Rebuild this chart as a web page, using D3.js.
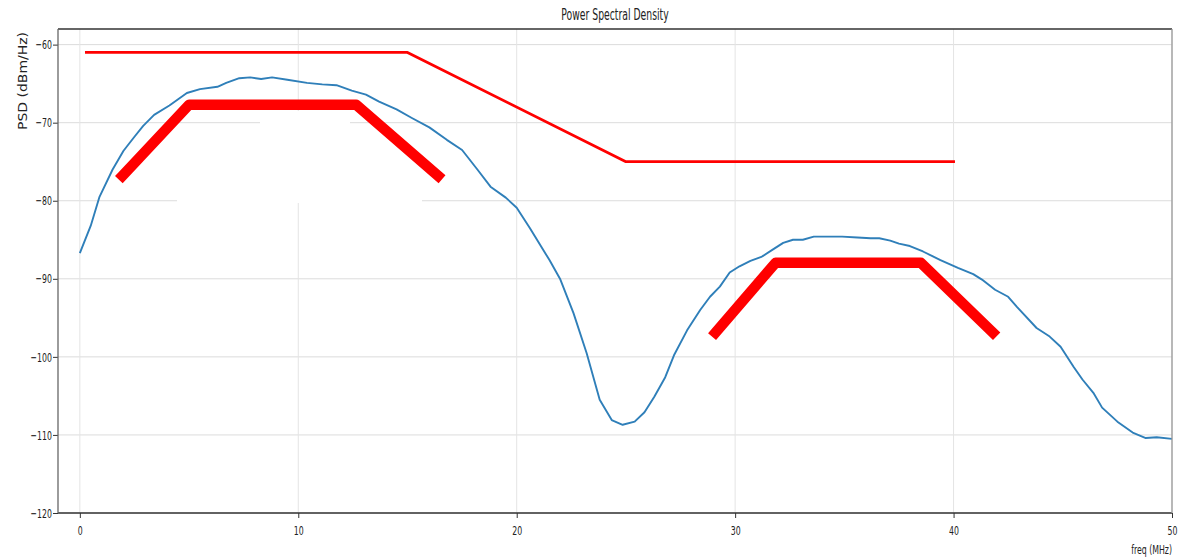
<!DOCTYPE html>
<html>
<head>
<meta charset="utf-8">
<script src="https://cdn.jsdelivr.net/npm/d3@7"></script>
<style>
  html, body { margin: 0; padding: 0; background: #fff; }
  svg { display: block; }
  text { font-family: "DejaVu Sans", sans-serif; fill: #222; }
</style>
</head>
<body>
<svg id="chart" width="1188" height="559"></svg>
<script>
// ---------- data ----------
const freq = [0, 0.5, 0.9, 1.5, 2.0, 2.5, 2.9, 3.4, 4.1, 4.5, 4.9, 5.5, 6.3, 6.7, 7.3, 7.8, 8.3, 8.8, 9.5, 10.4,
  11.1, 11.75, 12.45, 13.1, 13.7, 14.5, 15.2, 16.0, 16.8, 17.5, 18.2, 18.8, 19.5, 20.0, 20.6, 21.5, 22.0, 22.6, 23.2, 23.8,
  24.35, 24.85, 25.4, 25.85, 26.3, 26.8, 27.2, 27.8, 28.4, 28.85, 29.3, 29.75, 30.2, 30.7, 31.2, 31.7, 32.2, 32.65, 33.1, 33.6,
  34.3, 34.9, 35.6, 36.2, 36.6, 37.1, 37.5, 38.0, 38.6, 39.4, 40.2, 40.9, 41.3, 41.9, 42.5, 42.9, 43.8, 44.4, 44.9, 45.5,
  45.9, 46.4, 46.8, 47.5, 48.2, 48.8, 49.3, 50.0];
const psd = [-86.7, -83.2, -79.5, -76.0, -73.6, -71.8, -70.4, -69.0, -67.8, -67.0, -66.2, -65.7, -65.4, -64.9, -64.3, -64.2, -64.4, -64.2, -64.5, -64.9,
  -65.1, -65.2, -65.9, -66.4, -67.3, -68.3, -69.4, -70.6, -72.2, -73.5, -76.0, -78.2, -79.6, -80.9, -83.5, -87.6, -90.1, -94.4, -99.5, -105.5,
  -108.1, -108.7, -108.3, -107.1, -105.1, -102.6, -99.8, -96.6, -94.0, -92.3, -91.0, -89.2, -88.4, -87.7, -87.2, -86.3, -85.4, -85.0, -85.0, -84.6,
  -84.6, -84.6, -84.7, -84.8, -84.8, -85.1, -85.5, -85.8, -86.5, -87.6, -88.6, -89.4, -90.1, -91.4, -92.3, -93.6, -96.3, -97.4, -98.7, -101.3,
  -102.9, -104.6, -106.5, -108.3, -109.7, -110.4, -110.3, -110.5];

// upper limit line (thin red)
const limitFreq = [0.3, 15.0, 25.0, 40.0];
const limitPsd  = [-61, -61, -75, -75];

// spectral masks (thick red)
const mask1Freq = [1.95, 5.0, 12.65, 16.4];
const mask1Psd  = [-76.8, -67.7, -67.7, -76.8];
const mask2Freq = [29.1, 31.85, 38.5, 41.8];
const mask2Psd  = [-96.9, -87.95, -87.95, -96.9];

const xTicks = [0, 10, 20, 30, 40, 50];
const yTicks = [-60, -70, -80, -90, -100, -110, -120];

const titleText = "Power Spectral Density";
const xLabel = "freq (MHz)";
const yLabel = "PSD (dBm/Hz)";

// ---------- layout ----------
const L = 58, R = 1172, T = 29, B = 513;
const SX = 0.6; // horizontal squeeze of the reference text

const svg = d3.select("#chart");
const x = d3.scaleLinear().domain([-1, 50]).range([L, R]);
const y = d3.scaleLinear().domain([-120, -58]).range([B, T]);

// grid
const grid = svg.append("g");
grid.selectAll("line.h").data(yTicks).join("line")
  .attr("x1", L).attr("x2", R)
  .attr("y1", d => y(d)).attr("y2", d => y(d))
  .attr("stroke", "#dcdcdc").attr("stroke-width", 1);
grid.selectAll("line.v").data(xTicks).join("line")
  .attr("y1", T).attr("y2", B)
  .attr("x1", d => x(d)).attr("x2", d => x(d))
  .attr("stroke", "#e4e4e4").attr("stroke-width", 1);

// white occluding box present in the reference
svg.append("rect").attr("x", 177).attr("y", 125).attr("width", 245).attr("height", 78).attr("fill", "#fff");
svg.append("rect").attr("x", 260).attr("y", 111).attr("width", 90).attr("height", 20).attr("fill", "#fff");

// lines
const line = (fx, fy) => d3.line().x((d, i) => x(fx[i])).y((d, i) => y(fy[i]))(fx);

svg.append("path").attr("d", line(freq, psd))
  .attr("fill", "none").attr("stroke", "#2f7fb9").attr("stroke-width", 1.9)
  .attr("stroke-linejoin", "round");

svg.append("path").attr("d", line(limitFreq, limitPsd))
  .attr("fill", "none").attr("stroke", "#ff0000").attr("stroke-width", 2.8)
  .attr("stroke-linejoin", "round").attr("stroke-linecap", "square");

[[mask1Freq, mask1Psd], [mask2Freq, mask2Psd]].forEach(([fx, fy]) => {
  svg.append("path").attr("d", line(fx, fy))
    .attr("fill", "none").attr("stroke", "#ff0000").attr("stroke-width", 10.5)
    .attr("stroke-linejoin", "round").attr("stroke-linecap", "square");
});

// axes
const yAxis = svg.append("g").attr("transform", `translate(${L},0)`)
  .call(d3.axisLeft(y).tickValues(yTicks).tickSize(5).tickPadding(1));
const xAxis = svg.append("g").attr("transform", `translate(0,${B})`)
  .call(d3.axisBottom(x).tickValues(xTicks).tickSize(5).tickPadding(7.5));
[yAxis, xAxis].forEach(g => {
  g.select(".domain").remove();
  g.selectAll(".tick line").attr("stroke", "#333").attr("stroke-width", 1);
  g.selectAll(".tick text").attr("font-family", "DejaVu Sans").attr("font-size", 13).attr("fill", "#222");
});
yAxis.selectAll(".tick text").attr("x", -6 / SX).attr("transform", `scale(${SX},1)`);
xAxis.selectAll(".tick text").attr("transform", `scale(${SX},1)`);

// frame
svg.append("line").attr("x1", L).attr("x2", R).attr("y1", T).attr("y2", T).attr("stroke", "#333").attr("stroke-width", 1.3);
svg.append("line").attr("x1", L).attr("x2", R).attr("y1", B).attr("y2", B).attr("stroke", "#333").attr("stroke-width", 1.3);
svg.append("line").attr("x1", L).attr("x2", L).attr("y1", T).attr("y2", B).attr("stroke", "#666").attr("stroke-width", 1.3);
svg.append("line").attr("x1", R).attr("x2", R).attr("y1", T).attr("y2", B).attr("stroke", "#999").attr("stroke-width", 1.3);

// title & labels
svg.append("text").attr("transform", `translate(${(L + R) / 2},20) scale(0.58,1)`)
  .attr("text-anchor", "middle").attr("font-size", 16).text(titleText);
svg.append("text").attr("transform", `translate(${R},554) scale(${SX},1)`)
  .attr("text-anchor", "end").attr("font-size", 13).text(xLabel);
svg.append("text").attr("transform", `translate(27,81) rotate(-90)`)
  .attr("text-anchor", "middle").attr("font-size", 13).attr("fill", "#333")
  .attr("textLength", 98).attr("lengthAdjust", "spacingAndGlyphs").text(yLabel);
</script>
</body>
</html>
